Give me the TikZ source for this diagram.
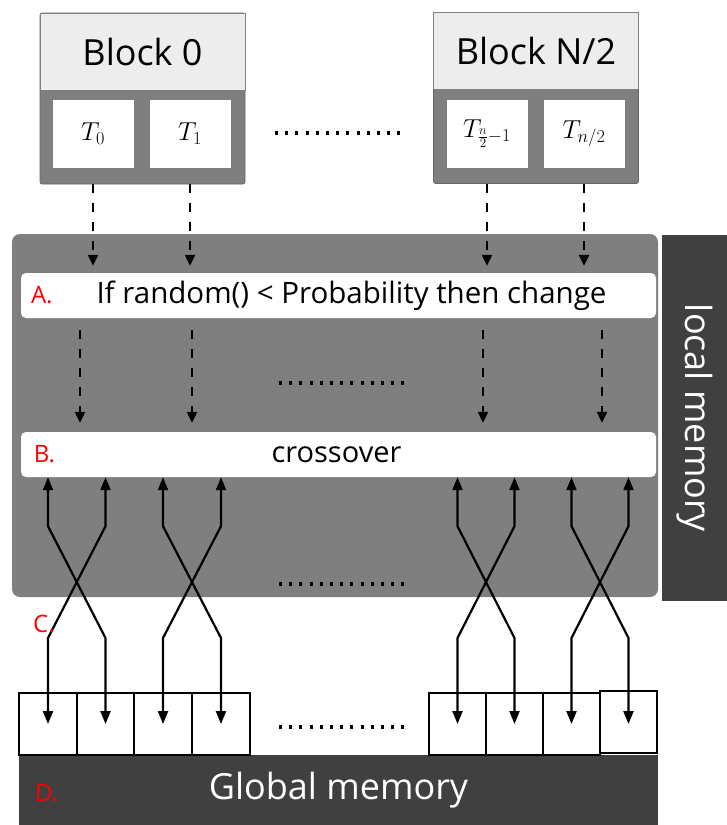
\RequirePackage{fix-cm}
\documentclass[tikz,border=0pt]{standalone}
\usepackage{fontspec}
\setmainfont{Open Sans}
\usepackage{tikz}
\usetikzlibrary{positioning,arrows.meta,calc,shadows}
\definecolor{panelgray}{HTML}{7F7F7F}
\definecolor{darkband}{HTML}{404040}
\definecolor{headgray}{HTML}{EDEDED}
\definecolor{stepred}{HTML}{FF0000}
\newcommand{\fs}[1]{\fontsize{#1}{#1}\selectfont}

\begin{document}
\begin{tikzpicture}[x=1pt,y=-1pt,
  blockbody/.style={fill=panelgray,draw=panelgray!80!black,line width=0.6pt,rounded corners=2pt,
                    minimum width=205pt,minimum height=171pt,inner sep=0pt},
  blockhead/.style={fill=headgray,draw=panelgray,line width=0.6pt,minimum width=205pt,
                    minimum height=77pt,inner sep=0pt,font=\fs{36}},
  thread/.style={fill=white,minimum width=81pt,minimum height=68pt,inner sep=0pt,font=\fs{26}},
  stagebox/.style={fill=white,rounded corners=5pt,minimum width=635pt,minimum height=45pt,inner sep=0pt,
                   drop shadow={opacity=0.4,shadow xshift=1pt,shadow yshift=-2pt}},
  memcell/.style={draw=black,line width=1.6pt,fill=white,minimum width=57.5pt,minimum height=62pt,inner sep=0pt},
  steplabel/.style={text=stepred,font=\fs{24},anchor=west,inner sep=0pt},
  dasharrow/.style={line width=2.2pt,dash pattern=on 9pt off 10pt,-{Triangle[length=11pt,width=10pt]}},
  xarrow/.style={line width=2.2pt,{Triangle[length=13pt,width=10pt]}-{Triangle[length=13pt,width=10pt]}},
  dotrow/.style={line width=4pt,dash pattern=on 3pt off 7.2pt}]

\useasboundingbox (0,0) rectangle (727,825);
\fill[white] (0,0) rectangle (727,825);

% thread blocks
\node[blockbody] (blk0) at (142.5,98.5) {};
\node[blockhead,anchor=north] (blk0head) at (blk0.north) {Block 0};
\node[blockbody] (blkN) at (536,98) {};
\node[blockhead,anchor=north] (blkNhead) at (blkN.north) {Block N/2};

\node[thread] (t0) at (93,134) {$T_0$};
\node[thread] (t1) at (190,134) {$T_1$};
\node[thread] (tn1) at (487,134) {$T_{\frac{n}{2}-1}$};
\node[thread] (tn) at (584,134) {$T_{n/2}$};
\draw[dotrow] (275,133) -- (400,133);

% local memory panel
\node[fill=panelgray,rounded corners=8pt,minimum width=646pt,minimum height=363pt,inner sep=0pt]
      (localmem) at (335,415.5) {};
\node[fill=darkband,rotate=-90,minimum width=366pt,minimum height=65pt,inner sep=0pt,
      text=white,font=\fs{36}] (lmlabel) at (694.5,418) {local memory};

\node[stagebox] (boxA) at (338.5,295.5) {};
\node (txtA) at ([xshift=13pt]boxA.center) {\fs{29.5}If random() < Probability then change};
\node[steplabel] (labA) at ([xshift=10pt]boxA.west) {A.};

\node[stagebox] (boxB) at (338.5,454.5) {};
\node (txtB) at ([xshift=-2pt]boxB.center) {\fs{29}crossover};
\node[steplabel] (labB) at ([xshift=13pt]boxB.west) {B.};

\foreach \t in {t0,t1,tn1,tn}
  \draw[dasharrow,shorten >=7pt] (\t |- blk0.south) -- (\t |- boxA.north);
\foreach \x in {80,192,483,602}
  \draw[dasharrow,shorten <=12pt,shorten >=9pt] (boxA.south -| \x,0) -- (boxB.north -| \x,0);
\draw[dotrow] (279,383) -- (404,383);
\draw[dotrow] (279,584) -- (404,584);

% global memory
\node[fill=darkband,minimum width=639pt,minimum height=70pt,inner sep=0pt,text=white,font=\fs{36}]
      (gmem) at (338.5,790) {Global memory};
\node[steplabel] (labD) at (35,793) {D.};

\node[memcell] (g1) at (48,724) {};
\node[memcell] (g2) at (105.5,724) {};
\node[memcell] (g3) at (163,724) {};
\node[memcell] (g4) at (221,724) {};
\node[memcell] (g5) at (457.5,724) {};
\node[memcell] (g6) at (514.5,724) {};
\node[memcell] (g7) at (571.5,724) {};
\node[memcell] (g8) at (628.5,722) {};
\draw[dotrow] (279,727) -- (404,727);

% crossover wiring between the two memories
\coordinate (lowbend) at (0,638);
\foreach \a/\b in {1/2,2/1,3/4,4/3,5/6,6/5,7/8,8/7}
  \draw[xarrow] (boxB.south -| g\a) -- ++(0,49) -- (g\b |- lowbend) -- (g\b |- g1.center);
\node[steplabel] (labC) at (33,624) {C.};

\end{tikzpicture}
\end{document}
